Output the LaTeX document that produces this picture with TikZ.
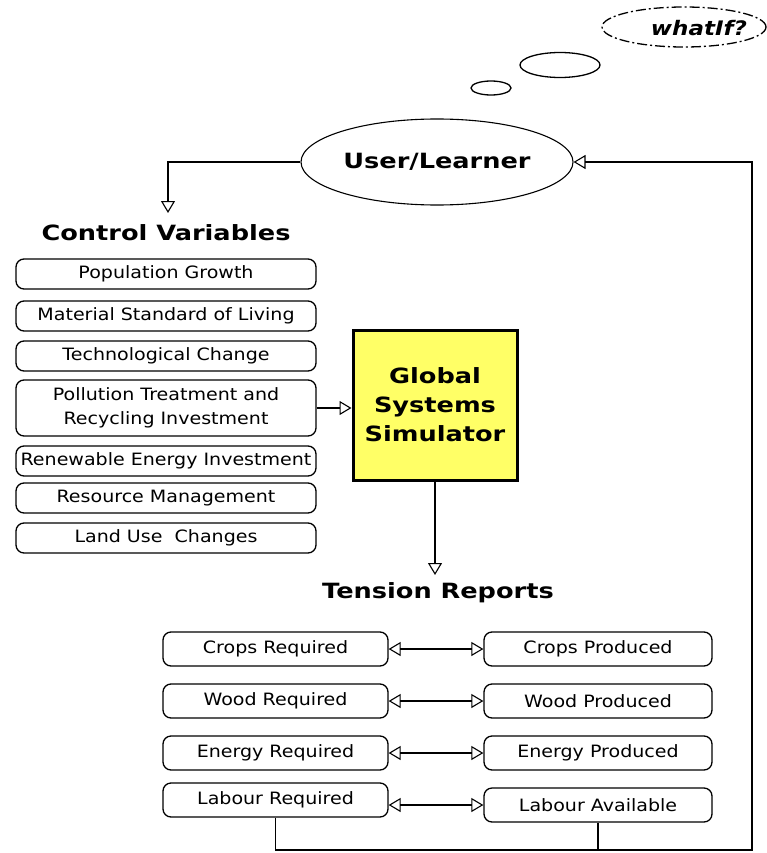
\documentclass[tikz,border=0pt]{standalone}
\usepackage{fontspec}
\setmainfont{DejaVu Sans}
\newfontfamily\boxfont[FakeStretch=1.12]{DejaVu Sans}
\newfontfamily\headfont[FakeStretch=1.22]{DejaVu Sans Bold}
\newfontfamily\whatfont[FakeStretch=1.15]{DejaVu Sans Bold Oblique}
\usetikzlibrary{arrows.meta,shapes.geometric}
\definecolor{simyellow}{RGB}{255,255,102}
\tikzset{
  x=1pt, y=-1pt,
  every path/.style={line width=1.3pt},
  tip/.style={-{Triangle[open,length=12pt,width=14pt,line width=1.1pt]}},
  dtip/.style={{Triangle[open,length=12pt,width=14pt,line width=1.1pt]}-{Triangle[open,length=12pt,width=14pt,line width=1.1pt]}},
  cvbox/.style={draw, rounded corners=8pt, minimum width=300pt, minimum height=30pt, inner sep=0pt, align=center,
    font=\boxfont\fontsize{17}{24}\selectfont},
  trbox/.style={draw, rounded corners=8pt, minimum height=34pt, inner sep=0pt, align=center,
    font=\boxfont\fontsize{17}{24}\selectfont},
  header/.style={inner sep=0pt, font=\headfont\fontsize{21}{29}\selectfont},
  bubble/.style={draw, ellipse, inner sep=0pt},
}
\begin{document}
\begin{tikzpicture}
\useasboundingbox (0,0) rectangle (767,853);

% thought bubbles
\node[bubble, minimum width=40pt, minimum height=14pt] (b1) at (491,88) {};
\node[bubble, minimum width=80pt, minimum height=25pt] (b2) at (560,65) {};
\node[bubble, minimum width=164pt, minimum height=40pt, dash pattern=on 10pt off 3pt on 2pt off 3pt] (what) at (684,27) {};
\node[inner sep=0pt, font=\whatfont\fontsize{20}{22}\selectfont] (whattxt) at (699,28) {whatIf?};

% user / learner
\node[bubble, line width=1.1pt, minimum width=272pt, minimum height=86pt,
  font=\headfont\fontsize{21}{29}\selectfont] (user) at (437,162) {User/Learner};

% control variables
\node[header] (cv) at (166,233) {Control Variables};
\coordinate (cvtop) at (168,213);
\draw[tip] (user.west) -| (cvtop);

\node[cvbox] (c1) at (166,274) {Population Growth};
\node[cvbox] (c2) at (166,316) {Material Standard of Living};
\node[cvbox] (c3) at (166,356) {Technological Change};
\node[cvbox, minimum height=56pt] (c4) at (166,408) {Pollution Treatment and\\Recycling Investment};
\node[cvbox] (c5) at (166,461) {Renewable Energy Investment};
\node[cvbox] (c6) at (166,498) {Resource Management};
\node[cvbox] (c7) at (166,538) {Land Use\ \ Changes};

% simulator
\node[draw, line width=3pt, fill=simyellow, minimum width=164pt, minimum height=150pt, align=center,
  font=\headfont\fontsize{21}{29}\selectfont] (sim) at (435,405) {Global\\Systems\\Simulator};
\draw[tip] (c4.east) -- (sim.west |- c4.east);

% tension reports
\node[header] (tr) at (438,593) {Tension Reports};
\coordinate (trtop) at (435,575);
\draw[tip] (sim.south) -- (trtop);

\node[trbox, minimum width=225pt] (cr) at (275.5,649) {Crops Required};
\node[trbox, minimum width=228pt] (cp) at (598,649) {Crops Produced};
\node[trbox, minimum width=225pt] (wr) at (275.5,701) {Wood Required};
\node[trbox, minimum width=228pt] (wp) at (598,701) {Wood Produced};
\node[trbox, minimum width=225pt] (er) at (275.5,753) {Energy Required};
\node[trbox, minimum width=228pt] (ep) at (598,753) {Energy Produced};
\node[trbox, minimum width=225pt] (lr) at (275.5,800) {Labour Required};
\node[trbox, minimum width=228pt] (la) at (598,805) {Labour Available};

\draw[dtip] (cr.east) -- (cp.west);
\draw[dtip] (wr.east) -- (wp.west);
\draw[dtip] (er.east) -- (ep.west);
\draw[dtip] (lr.east |- la.west) -- (la.west);

% feedback loop
\coordinate (loopbr) at (752,850);
\draw[tip] (lr.south) |- (loopbr) |- (user.east);
\draw (la.south) -- (la.south |- loopbr);
\end{tikzpicture}
\end{document}
